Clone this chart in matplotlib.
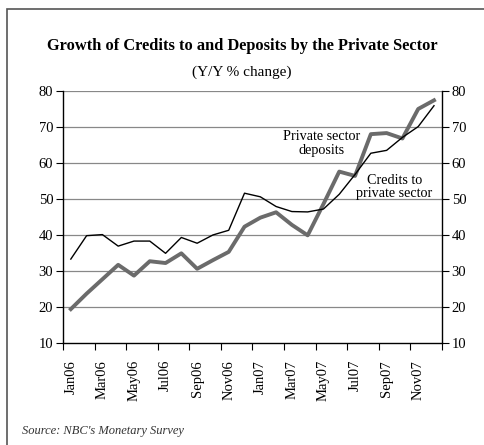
import numpy as np
import matplotlib
matplotlib.use("Agg")
import matplotlib.pyplot as plt
from matplotlib.patches import Rectangle

months = ["Jan06", "Feb06", "Mar06", "Apr06", "May06", "Jun06", "Jul06", "Aug06",
          "Sep06", "Oct06", "Nov06", "Dec06", "Jan07", "Feb07", "Mar07", "Apr07",
          "May07", "Jun07", "Jul07", "Aug07", "Sep07", "Oct07", "Nov07", "Dec07"]
tick_labels = ["Jan06", "Mar06", "May06", "Jul06", "Sep06", "Nov06",
               "Jan07", "Mar07", "May07", "Jul07", "Sep07", "Nov07"]

# thin black series
credits = [33.4, 39.9, 40.2, 37.0, 38.4, 38.4, 35.0, 39.4, 37.8, 40.1, 41.4, 51.7,
           50.7, 48.0, 46.6, 46.5, 47.3, 51.4, 56.9, 62.8, 63.6, 67.2, 70.2, 76.0]
# thick grey series
deposits = [19.5, 23.8, 27.8, 31.8, 28.8, 32.8, 32.3, 35.0, 30.7, 33.1, 35.4, 42.4,
            44.9, 46.4, 42.9, 40.0, 48.7, 57.7, 56.5, 68.1, 68.4, 66.9, 75.1, 77.5]

plt.rcParams['font.family'] = ['Liberation Serif', 'DejaVu Serif']

fig = plt.figure(figsize=(4.84, 4.45), dpi=100)
fig.patches.append(Rectangle((7/484, -0.1), 1.2, 1 - 9/445 + 0.1, transform=fig.transFigure,
                             fill=False, edgecolor='#555555', linewidth=1.2))

ax = fig.add_axes([0.130, 0.2285, 0.783, 0.5663])
x = np.arange(len(months))

ax.plot(x, deposits, color='#6b6b6b', linewidth=2.8, zorder=3)
ax.plot(x, credits, color='black', linewidth=1.0, zorder=4)

ax.set_xlim(-0.5, len(months) - 0.5)
ax.set_ylim(10, 80)
ax.set_yticks(range(10, 81, 10))
for v in range(20, 81, 10):
    ax.axhline(v, color='#888888', linewidth=0.9, zorder=1)

ax.tick_params(axis='y', which='both', direction='out', length=5, labelsize=10.5,
               right=True, labelright=True, pad=2)
ax.set_xticks(np.arange(-0.5, len(months), 2))
ax.set_xticklabels([])
ax.set_xticks(np.arange(0, len(months), 2), minor=True)
ax.set_xticklabels(tick_labels, minor=True, rotation=90, fontsize=10.5)
ax.tick_params(axis='x', which='major', direction='out', length=5)
ax.tick_params(axis='x', which='minor', length=0, pad=12)

ax.spines['top'].set_visible(False)
for s in ['left', 'right', 'bottom']:
    ax.spines[s].set_linewidth(1.0)

ax.text(15.9, 65.5, "Private sector\ndeposits", ha='center', va='center', fontsize=10.2,
        linespacing=1.1)
ax.text(20.5, 53.4, "Credits to\nprivate sector", ha='center', va='center', fontsize=10.2,
        linespacing=0.95)

fig.text(0.5, 1 - 46/445, "Growth of Credits to and Deposits by the Private Sector",
         ha='center', va='center', fontsize=11.8, fontweight='bold')
fig.text(0.5, 1 - 72/445, "(Y/Y % change)", ha='center', va='center', fontsize=11)
fig.text(22/484, 1 - 431/445, "Source: NBC's Monetary Survey", ha='left', va='center',
         fontsize=9, style='italic', color='#333333')

fig.savefig("out.png", dpi=100)
